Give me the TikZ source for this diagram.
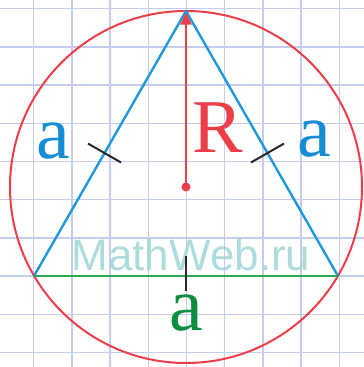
\documentclass[tikz,border=0pt]{standalone}
\usepackage{fontspec}
\newfontfamily\wmfont{Liberation Sans}
\newfontfamily\labfont{Liberation Serif}
\usetikzlibrary{calc,arrows.meta}
\definecolor{gridc}{RGB}{196,204,240}
\definecolor{circc}{RGB}{236,62,72}
\definecolor{triblue}{RGB}{32,152,218}
\definecolor{labblue}{RGB}{22,140,212}
\definecolor{basegreen}{RGB}{40,168,80}
\definecolor{labgreen}{RGB}{12,140,62}
\definecolor{wmc}{RGB}{160,214,216}
\definecolor{tickc}{RGB}{40,40,40}
\tikzset{
  gridline/.style={draw=gridc, line width=1.4pt},
  circline/.style={draw=circc, line width=2pt},
  sideline/.style={draw=triblue, line width=2.4pt},
  baseline/.style={draw=basegreen, line width=2.6pt},
  tickline/.style={draw=tickc, line width=2pt},
  biglab/.style={font=\labfont\fontsize{76}{76}\selectfont, inner sep=0pt, anchor=base},
}
\begin{document}
\begin{tikzpicture}[x=1pt,y=-1pt]
\useasboundingbox (0,0) rectangle (364,367);
\fill[white] (0,0) rectangle (364,367);
% grid
\foreach \k in {-1,...,8} {
  \draw[gridline] (33.7+38.2*\k,0) -- (33.7+38.2*\k,367);
}
\foreach \k in {-7,...,2} {
  \draw[gridline] (0,276+38.2*\k) -- (364,276+38.2*\k);
}
% watermark
\node[font=\wmfont\fontsize{44}{44}\selectfont, text=wmc, opacity=0.85, inner sep=0pt, anchor=base] (wm) at (191,270) {MathWeb.ru};
% points
\coordinate (O) at (186,187);
\coordinate (A) at (34,276);
\coordinate (B) at (338,276);
\coordinate (C) at (186,11);
% circle
\draw[circline] (O) circle (176);
% triangle
\draw[sideline, line join=round] (B) -- (C) -- (A);
\draw[baseline] (A) -- (B);
% radius
\draw[draw=circc, line width=2pt, -{Triangle[length=12pt,width=11pt]}] (O) -- ($(C)+(0,1.5)$);
\fill[circc] (O) circle (4.5);
% ticks
\coordinate (ML) at ($(A)!0.464!(C)$);
\coordinate (MR) at ($(B)!0.464!(C)$);
\coordinate (MB) at ($(A)!0.5!(B)$);
\draw[tickline] ($(ML)!19pt!90:(C)$) -- ($(ML)!19pt!-90:(C)$);
\draw[tickline] ($(MR)!19pt!90:(C)$) -- ($(MR)!19pt!-90:(C)$);
\draw[tickline] ($(MB)+(0,-20)$) -- ($(MB)+(0,15)$);
% labels
\node[biglab, text=labblue] (la) at (53,158) {a};
\node[biglab, text=labblue] (ra) at (314,156) {a};
\node[biglab, text=circc] (lr) at (218,152) {R};
\node[biglab, text=labgreen] (ba) at (186,330) {a};
\end{tikzpicture}
\end{document}
